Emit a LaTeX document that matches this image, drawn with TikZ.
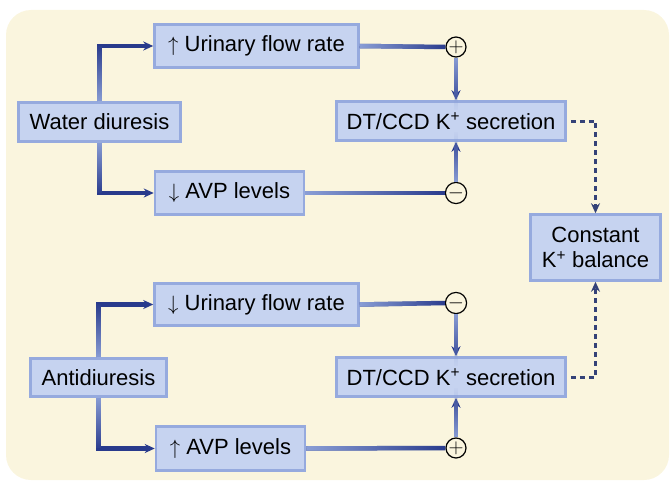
\documentclass[tikz,border=0pt]{standalone}
\usepackage{fontspec}
\setmainfont{Liberation Sans}
\usetikzlibrary{arrows.meta,positioning,fadings}
\definecolor{paper}{RGB}{250,245,222}
\definecolor{boxfill}{RGB}{198,211,240}
\definecolor{boxedge}{RGB}{150,170,222}
\definecolor{linkblue}{RGB}{40,58,140}
\definecolor{linklight}{RGB}{140,160,215}
\definecolor{dashblue}{RGB}{52,66,120}

\begin{document}
\begin{tikzpicture}[x=1pt, y=-1pt,
    stage/.style={draw=boxedge, fill=boxfill, line width=2.5pt, inner sep=0pt, align=center, font=\fontsize{22}{25}\selectfont},
    sign/.style={circle, draw=black, fill=paper, line width=1.2pt, minimum size=20pt, inner sep=0pt, font=\fontsize{21}{21}\selectfont},
    flow/.style={draw=linkblue, line width=4.5pt},
    glow/.style={draw=linklight, line width=4.5pt, path fading=#1},
    tip/.style={-{Stealth[length=10pt, width=9pt]}},
    effect/.style={draw=dashblue, line width=3pt, dash pattern=on 5pt off 4pt, -{Stealth[length=10pt, width=9pt]}}]
    \useasboundingbox (0,0) rectangle (672,487);
    \fill[paper, rounded corners=25pt] (6,10) rectangle (669,480);

    \node[stage, minimum width=162pt, minimum height=39pt] (wdi) at (99.5,122) {Water diuresis};
    \node[stage, minimum width=204pt, minimum height=43pt] (urup) at (256.5,46) {$\uparrow$ Urinary flow rate};
    \node[stage, minimum width=149pt, minimum height=43pt] (avpdown) at (229.5,193) {$\downarrow$ AVP levels};
    \node[stage, minimum width=229pt, minimum height=39pt] (dtup) at (451,121) {DT/CCD K\textsuperscript{+} secretion};
    \node[stage, minimum width=130pt, minimum height=66pt] (bal) at (595.5,247.5) {Constant\\K\textsuperscript{+} balance};
    \node[stage, minimum width=136pt, minimum height=38pt] (adi) at (98.5,377.5) {Antidiuresis};
    \node[stage, minimum width=204pt, minimum height=42pt] (urdown) at (256.5,304.5) {$\downarrow$ Urinary flow rate};
    \node[stage, minimum width=229pt, minimum height=39pt] (dtdown) at (451,377) {DT/CCD K\textsuperscript{+} secretion};
    \node[stage, minimum width=149pt, minimum height=44pt] (avpup) at (230.5,448.5) {$\uparrow$ AVP levels};

    \node[sign] (plusa) at (456,47) {$+$};
    \node[sign] (minusa) at (456,193) {$-$};
    \node[sign] (minusb) at (456,303) {$-$};
    \node[sign] (plusb) at (456,448) {$+$};

    \draw[flow, tip] (wdi.north) |- (urup.west);
    \draw[glow=north] (wdi.north) -- (wdi.north |- urup.west);
    \draw[flow, tip] (wdi.south) |- (avpdown.west);
    \draw[glow=south] (wdi.south) -- (wdi.south |- avpdown.west);
    \draw[flow, tip] (adi.north) |- (urdown.west);
    \draw[glow=north] (adi.north) -- (adi.north |- urdown.west);
    \draw[flow, tip] (adi.south) |- (avpup.west);
    \draw[glow=south] (adi.south) -- (adi.south |- avpup.west);

    \draw[flow] (urup.east) -- (plusa.west);
    \draw[glow=east] (urup.east) -- (plusa.west);
    \draw[flow] (avpdown.east) -- (minusa.west);
    \draw[glow=east] (avpdown.east) -- (minusa.west);
    \draw[flow] (urdown.east) -- (minusb.west);
    \draw[glow=east] (urdown.east) -- (minusb.west);
    \draw[flow] (avpup.east) -- (plusb.west);
    \draw[glow=east] (avpup.east) -- (plusb.west);

    \draw[flow, tip] (plusa.south) -- (plusa.south |- dtup.north);
    \draw[glow=south] (plusa.south) -- ([yshift=-10pt]plusa.south |- dtup.north);
    \draw[flow, tip] (minusa.north) -- (minusa.north |- dtup.south);
    \draw[glow=north] (minusa.north) -- ([yshift=10pt]minusa.north |- dtup.south);
    \draw[flow, tip] (minusb.south) -- (minusb.south |- dtdown.north);
    \draw[glow=south] (minusb.south) -- ([yshift=-10pt]minusb.south |- dtdown.north);
    \draw[flow, tip] (plusb.north) -- (plusb.north |- dtdown.south);
    \draw[glow=north] (plusb.north) -- ([yshift=10pt]plusb.north |- dtdown.south);

    \draw[effect] ([xshift=4pt]dtup.east) -| (bal.north);
    \draw[effect] ([xshift=4pt]dtdown.east) -| (bal.south);
\end{tikzpicture}
\end{document}
